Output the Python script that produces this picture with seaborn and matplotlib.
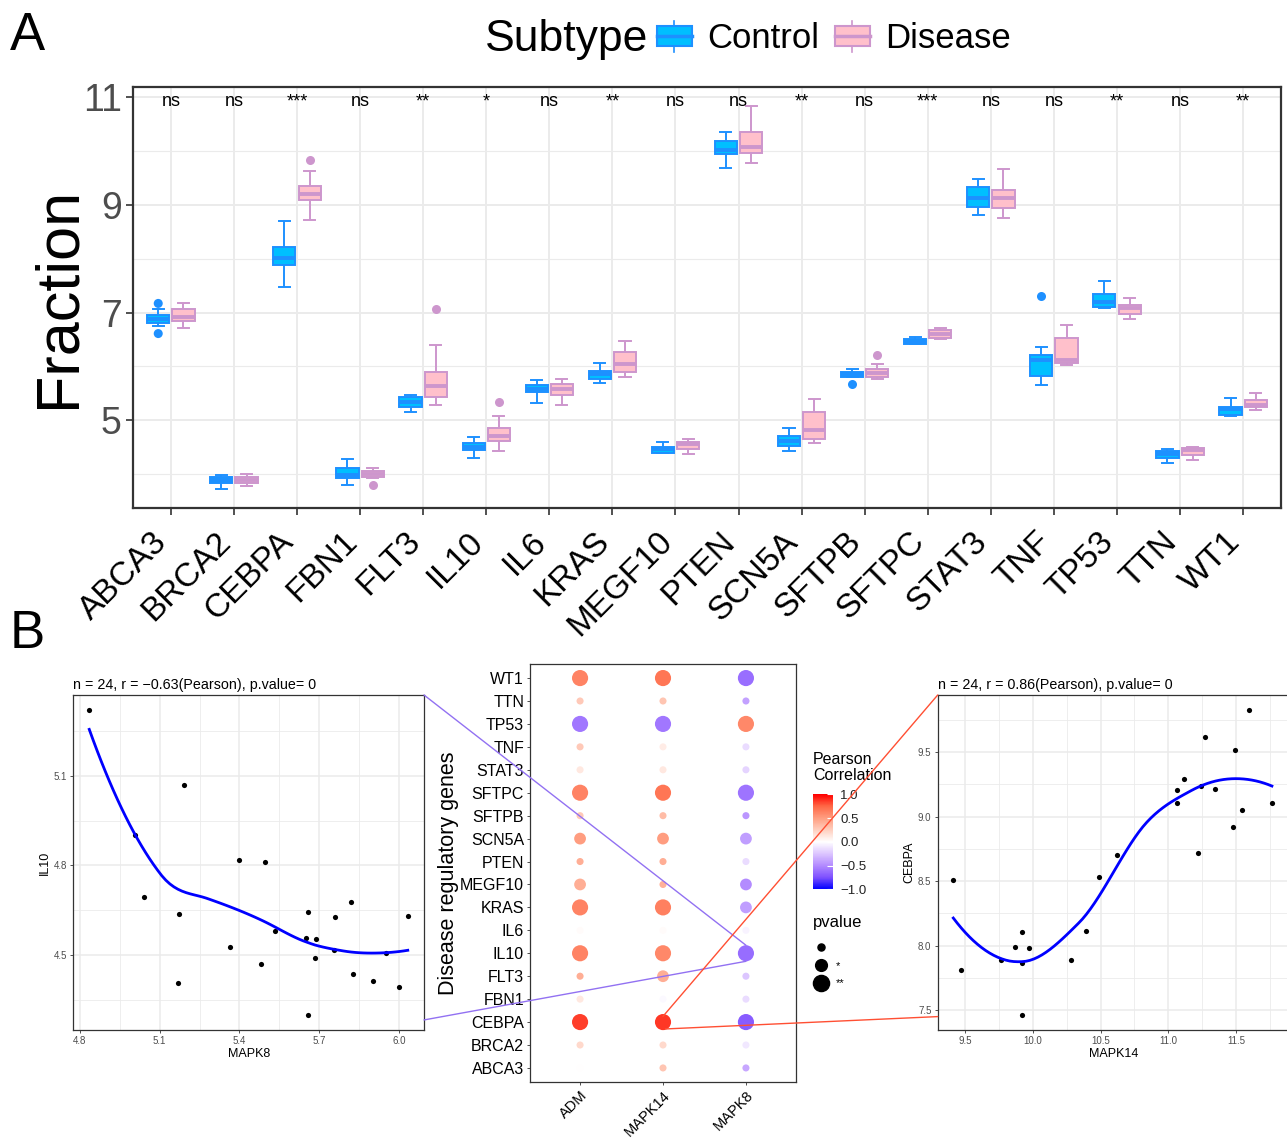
import matplotlib
matplotlib.use("Agg")
import matplotlib.pyplot as plt
import matplotlib.transforms as mtransforms
import numpy as np
import pandas as pd
import seaborn as sns
from matplotlib.colors import LinearSegmentedColormap, Normalize
from matplotlib.legend_handler import HandlerBase
from matplotlib.lines import Line2D
from matplotlib.patches import ConnectionPatch, Patch, Rectangle

# ---------------- panel A: expression by subtype ----------------
genes = ["ABCA3", "BRCA2", "CEBPA", "FBN1", "FLT3", "IL10", "IL6", "KRAS", "MEGF10",
         "PTEN", "SCN5A", "SFTPB", "SFTPC", "STAT3", "TNF", "TP53", "TTN", "WT1"]

# whisker low, Q1, median, Q3, whisker high
control_box = [
    [6.75, 6.81, 6.88, 6.96, 7.06], [3.73, 3.83, 3.89, 3.94, 3.98],
    [7.48, 7.88, 8.01, 8.22, 8.71], [3.80, 3.92, 3.98, 4.11, 4.28],
    [5.15, 5.24, 5.33, 5.43, 5.47], [4.30, 4.45, 4.50, 4.58, 4.68],
    [5.32, 5.52, 5.58, 5.66, 5.75], [5.70, 5.76, 5.86, 5.92, 6.06],
    [4.39, 4.40, 4.46, 4.51, 4.60], [9.69, 9.94, 10.02, 10.19, 10.35],
    [4.43, 4.52, 4.62, 4.71, 4.85], [5.80, 5.81, 5.85, 5.89, 5.95],
    [6.41, 6.42, 6.45, 6.50, 6.55], [8.81, 8.96, 9.12, 9.34, 9.48],
    [5.66, 5.83, 6.11, 6.21, 6.36], [7.08, 7.10, 7.20, 7.34, 7.58],
    [4.21, 4.29, 4.38, 4.42, 4.47], [5.07, 5.09, 5.20, 5.25, 5.41],
]
disease_box = [
    [6.71, 6.85, 6.92, 7.07, 7.17], [3.78, 3.83, 3.89, 3.94, 4.01],
    [8.72, 9.09, 9.21, 9.35, 9.63], [3.93, 3.95, 4.00, 4.06, 4.12],
    [5.29, 5.44, 5.64, 5.89, 6.39], [4.42, 4.61, 4.70, 4.86, 5.08],
    [5.29, 5.46, 5.58, 5.68, 5.77], [5.80, 5.89, 6.04, 6.26, 6.47],
    [4.37, 4.47, 4.55, 4.59, 4.66], [9.78, 9.96, 10.08, 10.36, 10.83],
    [4.57, 4.66, 4.81, 5.15, 5.39], [5.76, 5.81, 5.88, 5.96, 6.05],
    [6.51, 6.53, 6.61, 6.67, 6.71], [8.75, 8.94, 9.13, 9.28, 9.66],
    [6.02, 6.07, 6.12, 6.52, 6.76], [6.88, 6.97, 7.08, 7.14, 7.28],
    [4.27, 4.35, 4.45, 4.48, 4.51], [5.19, 5.24, 5.29, 5.38, 5.50],
]
control_out_gene = ["ABCA3", "ABCA3", "SFTPB", "TNF"]
control_out_val = [7.17, 6.61, 5.67, 7.30]
disease_out_gene = ["CEBPA", "FBN1", "FLT3", "IL10", "SFTPB"]
disease_out_val = [9.83, 3.80, 7.06, 5.34, 6.22]
signif = ["ns", "ns", "***", "ns", "**", "*", "ns", "**", "ns",
          "ns", "**", "ns", "***", "ns", "ns", "**", "ns", "**"]

# ---------------- panel B: correlations ----------------
mapk8_x = [4.835, 5.191, 5.008, 5.041, 5.173, 5.167, 5.366, 5.400, 5.497, 5.481, 5.533, 5.650,
           5.658, 5.686, 5.683, 5.658, 5.760, 5.756, 5.820, 5.828, 5.904, 5.950, 5.999, 6.033]
il10_y = [5.320, 5.070, 4.901, 4.695, 4.637, 4.405, 4.525, 4.818, 4.812, 4.469, 4.580, 4.556,
          4.643, 4.554, 4.488, 4.297, 4.627, 4.518, 4.677, 4.437, 4.412, 4.508, 4.392, 4.630]
mapk14_x = [9.414, 9.470, 9.763, 9.869, 9.923, 9.920, 9.974, 9.920, 10.282, 10.395, 10.486, 10.619,
            11.061, 11.063, 11.115, 11.218, 11.240, 11.268, 11.346, 11.474, 11.494, 11.543, 11.592, 11.764]
cebpa_y = [8.508, 7.808, 7.888, 7.991, 8.102, 7.867, 7.978, 7.459, 7.888, 8.110, 8.531, 8.699,
           9.203, 9.107, 9.291, 8.715, 9.236, 9.614, 9.213, 8.916, 9.513, 9.050, 9.823, 9.102]

targets = ["ADM", "MAPK14", "MAPK8"]
# Pearson r per gene (same order as genes)
r_adm = [0.00, 0.20, 0.85, 0.12, 0.42, 0.62, 0.02, 0.62, 0.42, 0.42, 0.50, 0.28,
         0.62, 0.12, 0.28, -0.58, 0.28, 0.62]
r_mapk14 = [0.30, 0.20, 0.86, -0.03, 0.42, 0.60, 0.02, 0.64, 0.40, 0.42, 0.50, 0.35,
            0.68, 0.12, 0.10, -0.58, 0.30, 0.68]
r_mapk8 = [-0.38, -0.10, -0.70, -0.15, -0.25, -0.63, -0.05, -0.42, -0.50, -0.15, -0.42, -0.45,
           -0.60, -0.18, -0.15, 0.60, -0.40, -0.62]
p_adm = ["ns", "ns", "**", "ns", "ns", "**", "ns", "**", "*", "ns", "*", "ns",
         "**", "ns", "ns", "**", "ns", "**"]
p_mapk14 = ["ns", "ns", "**", "ns", "*", "**", "ns", "**", "ns", "ns", "*", "ns",
            "**", "ns", "ns", "**", "ns", "**"]
p_mapk8 = ["ns", "ns", "**", "ns", "ns", "**", "ns", "*", "*", "ns", "*", "ns",
           "**", "ns", "ns", "**", "ns", "**"]

plt.rcParams["font.family"] = ["Liberation Sans", "DejaVu Sans"]

W, H = 1287, 1140


def fig_rect(left, top, right, bottom):
    return [left / W, 1 - bottom / H, (right - left) / W, (bottom - top) / H]


def loess_fit(x, y, span=0.75, n_grid=80):
    """Local quadratic loess evaluated on kd-tree vertices and joined by
    cubic Hermite pieces, the way R's loess(surface='interpolate') does."""
    x = np.asarray(x, float)
    y = np.asarray(y, float)
    n = len(x)
    q = int(np.floor(n * span))

    def local(g):
        d = np.abs(x - g)
        h = max(np.sort(d)[q - 1], 1e-12)
        w = np.clip(1 - (d / h) ** 3, 0, None) ** 3
        X = np.column_stack([np.ones(n), x - g, (x - g) ** 2])
        sw = np.sqrt(w)
        beta = np.linalg.lstsq(X * sw[:, None], y * sw, rcond=None)[0]
        return beta[0], beta[1]

    fc = int(np.floor(n * span * 0.2))
    mu = 0.005 * (x.max() - x.min())
    verts = [x.min() - mu, x.max() + mu]

    def split(pts):
        if len(pts) <= fc:
            return
        pts = np.sort(pts)
        m = (len(pts) + 1) // 2
        v = (pts[m - 1] + pts[m]) / 2
        left, right = pts[pts <= v], pts[pts > v]
        if len(left) == 0 or len(right) == 0:
            return
        verts.append(v)
        split(left)
        split(right)

    split(x)
    verts = np.unique(verts)
    vals = np.array([local(v) for v in verts])

    grid = np.linspace(x.min(), x.max(), n_grid)
    idx = np.clip(np.searchsorted(verts, grid) - 1, 0, len(verts) - 2)
    v0, v1 = verts[idx], verts[idx + 1]
    gap = v1 - v0
    t = (grid - v0) / gap
    h00 = 2 * t ** 3 - 3 * t ** 2 + 1
    h10 = t ** 3 - 2 * t ** 2 + t
    h01 = -2 * t ** 3 + 3 * t ** 2
    h11 = t ** 3 - t ** 2
    fit = (h00 * vals[idx, 0] + h10 * gap * vals[idx, 1]
           + h01 * vals[idx + 1, 0] + h11 * gap * vals[idx + 1, 1])
    return grid, fit


class BoxKey(HandlerBase):
    def create_artists(self, legend, orig, xd, yd, width, height, fontsize, trans):
        face, edge = orig.get_facecolor(), orig.get_edgecolor()
        x0, y0 = -xd, -yd
        box = Rectangle((x0, y0 + 0.18 * height), width, 0.64 * height,
                        facecolor=face, edgecolor=edge, lw=1.5, transform=trans)
        med = Line2D([x0, x0 + width], [y0 + 0.5 * height] * 2, color=edge, lw=2.5, transform=trans)
        up = Line2D([x0 + width / 2] * 2, [y0 + 0.82 * height, y0 + height], color=edge, lw=1.2, transform=trans)
        lo = Line2D([x0 + width / 2] * 2, [y0, y0 + 0.18 * height], color=edge, lw=1.2, transform=trans)
        return [box, med, up, lo]


fig = plt.figure(figsize=(W / 100, H / 100), dpi=100)

# ---------------- panel A ----------------
rows = []
for g, c, d in zip(genes, control_box, disease_box):
    rows += [(g, "Control", v) for v in c]
    rows += [(g, "Disease", v) for v in d]
box_df = pd.DataFrame(rows, columns=["gene", "Subtype", "value"])
out_df = pd.DataFrame({
    "gene": control_out_gene + disease_out_gene,
    "Subtype": ["Control"] * len(control_out_gene) + ["Disease"] * len(disease_out_gene),
    "value": control_out_val + disease_out_val,
})

fills = {"Control": "#00BFFF", "Disease": "#FFC0CB"}
edges = {"Control": "#1E90FF", "Disease": "#CD96CD"}
hue_order = ["Control", "Disease"]

ax_a = fig.add_axes(fig_rect(133, 87, 1281, 508))
for grp in hue_order:
    sns.boxplot(data=box_df[box_df["Subtype"] == grp], x="gene", y="value", hue="Subtype",
                order=genes, hue_order=hue_order, palette=fills, linecolor=edges[grp],
                linewidth=1.4, width=0.8, gap=0.12, dodge=True, saturation=1,
                whis=(0, 100), showfliers=False, medianprops={"linewidth": 2.8},
                legend=False, ax=ax_a)
sns.stripplot(data=out_df, x="gene", y="value", hue="Subtype", order=genes,
              hue_order=hue_order, palette=edges, dodge=True, jitter=False,
              size=6.5, linewidth=0, legend=False, ax=ax_a)

for i, s in enumerate(signif):
    ax_a.text(i, 10.83, s, ha="center", va="baseline", fontsize=13)

ax_a.set_xlim(-0.6, len(genes) - 0.4)
ax_a.set_ylim(3.37, 11.19)
ax_a.set_yticks([5, 7, 9, 11])
ax_a.set_yticks([4, 6, 8, 10], minor=True)
ax_a.set_axisbelow(True)
ax_a.yaxis.grid(True, which="major", color="#EBEBEB", lw=1.4)
ax_a.yaxis.grid(True, which="minor", color="#EBEBEB", lw=0.8)
ax_a.xaxis.grid(True, which="major", color="#EBEBEB", lw=1.4)
ax_a.set_xlabel("")
ax_a.set_ylabel("Fraction", fontsize=44, labelpad=-3)
ax_a.tick_params(axis="y", which="major", labelsize=27, labelcolor="#4D4D4D",
                 length=5, width=1.2, color="#333333", pad=3)
ax_a.tick_params(axis="y", which="minor", length=0)
ax_a.tick_params(axis="x", labelsize=24, labelcolor="black", length=5, width=1.2,
                 color="#333333", pad=3)
shift = mtransforms.ScaledTranslation(-0.19, -0.07, fig.dpi_scale_trans)
for lab in ax_a.get_xticklabels():
    lab.set_rotation(45)
    lab.set_ha("right")
    lab.set_va("top")
    lab.set_rotation_mode("anchor")
    lab.set_transform(lab.get_transform() + shift)
for sp in ax_a.spines.values():
    sp.set_color("#333333")
    sp.set_linewidth(1.6)

fig.text(485 / W, 1 - 51 / H, "Subtype", fontsize=32, va="baseline", ha="left")
handles = [Patch(facecolor=fills[k], edgecolor=edges[k]) for k in hue_order]
fig.legend(handles, hue_order, handler_map={Patch: BoxKey()}, loc="center left",
           bbox_to_anchor=(657 / W, 1 - 38 / H), ncol=2, frameon=False, fontsize=25,
           handlelength=1.0, handleheight=1.0, handletextpad=0.45, columnspacing=0.45,
           borderpad=0, borderaxespad=0)

fig.text(10 / W, 1 - 50 / H, "A", fontsize=38, va="baseline", ha="left")
fig.text(10 / W, 1 - 648 / H, "B", fontsize=38, va="baseline", ha="left")


# ---------------- panel B: scatter plots ----------------
def style_scatter(ax):
    ax.set_axisbelow(True)
    ax.grid(True, which="major", color="#EBEBEB", lw=1.1)
    ax.grid(True, which="minor", color="#EBEBEB", lw=0.6)
    ax.tick_params(which="major", labelsize=7, labelcolor="#4D4D4D", length=2.5,
                   width=0.6, color="#333333", pad=2)
    ax.tick_params(which="minor", length=0)
    for sp in ax.spines.values():
        sp.set_color("#333333")
        sp.set_linewidth(0.9)


ax_l = fig.add_axes(fig_rect(73.3, 695, 424, 1030))
sns.scatterplot(x=mapk8_x, y=il10_y, color="black", s=14, linewidth=0, ax=ax_l)
gx, gy = loess_fit(mapk8_x, il10_y)
sns.lineplot(x=gx, y=gy, color="blue", linewidth=2, estimator=None, sort=False, ax=ax_l)
ax_l.set_xlim(4.775, 6.094)
ax_l.set_ylim(4.248, 5.372)
ax_l.set_xticks([4.8, 5.1, 5.4, 5.7, 6.0])
ax_l.set_xticks([4.95, 5.25, 5.55, 5.85], minor=True)
ax_l.set_yticks([4.5, 4.8, 5.1])
ax_l.set_yticks([4.35, 4.65, 4.95, 5.25], minor=True)
ax_l.set_xlabel("MAPK8", fontsize=9, labelpad=1)
ax_l.set_ylabel("IL10", fontsize=9, labelpad=2)
ax_l.set_title("n = 24, r = \u22120.63(Pearson), p.value= 0", loc="left", fontsize=10.3, pad=4)
style_scatter(ax_l)

ax_r = fig.add_axes(fig_rect(937.7, 695, 1289, 1030))
sns.scatterplot(x=mapk14_x, y=cebpa_y, color="black", s=14, linewidth=0, ax=ax_r)
gx, gy = loess_fit(mapk14_x, cebpa_y)
sns.lineplot(x=gx, y=gy, color="blue", linewidth=2, estimator=None, sort=False, ax=ax_r)
ax_r.set_xlim(9.299, 11.89)
ax_r.set_ylim(7.345, 9.942)
ax_r.set_xticks([9.5, 10.0, 10.5, 11.0, 11.5])
ax_r.set_xticks([9.75, 10.25, 10.75, 11.25, 11.75], minor=True)
ax_r.set_yticks([7.5, 8.0, 8.5, 9.0, 9.5])
ax_r.set_yticks([7.75, 8.25, 8.75, 9.25, 9.75], minor=True)
ax_r.set_xlabel("MAPK14", fontsize=9, labelpad=1)
ax_r.set_ylabel("CEBPA", fontsize=9, labelpad=2)
ax_r.set_title("n = 24, r = 0.86(Pearson), p.value= 0", loc="left", fontsize=10.3, pad=4)
style_scatter(ax_r)

# ---------------- panel B: correlation dot plot ----------------
r_by_target = {"ADM": r_adm, "MAPK14": r_mapk14, "MAPK8": r_mapk8}
p_by_target = {"ADM": p_adm, "MAPK14": p_mapk14, "MAPK8": p_mapk8}
dot_rows = []
for i, g in enumerate(genes):
    for t in targets:
        dot_rows.append((g, t, r_by_target[t][i], p_by_target[t][i]))
dot_df = pd.DataFrame(dot_rows, columns=["gene", "target", "r", "pvalue"])

cmap = LinearSegmentedColormap.from_list(
    "bwr_lab",
    ["#0000FF", "#7E51FF", "#B38BFF", "#DCC5FF", "#FFFFFF",
     "#FFCFBF", "#FF9E81", "#FF6846", "#FF0000"])
dot_sizes = {"ns": 26, "*": 72, "**": 135}

ax_m = fig.add_axes(fig_rect(530.3, 664.3, 795.7, 1081.7))
sns.scatterplot(data=dot_df, x="target", y="gene", hue="r", hue_norm=(-1, 1), palette=cmap,
                size="pvalue", sizes=dot_sizes, size_order=["ns", "*", "**"],
                linewidth=0, legend=False, ax=ax_m)
ax_m.set_xlim(-0.6, len(targets) - 0.4)
ax_m.set_ylim(-0.6, len(genes) - 0.4)
ax_m.set_xlabel("")
ax_m.set_ylabel("Disease regulatory genes", fontsize=15.5, labelpad=1)
ax_m.tick_params(axis="y", labelsize=11.5, labelcolor="black", length=2.5, width=0.6,
                 color="#333333", pad=2)
ax_m.tick_params(axis="x", labelsize=10.5, labelcolor="black", length=2.5, width=0.6,
                 color="#333333", pad=2)
for lab in ax_m.get_xticklabels():
    lab.set_rotation(45)
    lab.set_ha("right")
    lab.set_va("top")
    lab.set_rotation_mode("anchor")
for sp in ax_m.spines.values():
    sp.set_color("#333333")
    sp.set_linewidth(0.9)

ax_cb = fig.add_axes(fig_rect(813.3, 794.3, 833.3, 889.3))
cb = fig.colorbar(plt.cm.ScalarMappable(norm=Normalize(-1, 1), cmap=cmap), cax=ax_cb)
cb.outline.set_visible(False)
cb.set_ticks([1, 0.5, 0, -0.5, -1], labels=["1.0", "0.5", "0.0", "\u22120.5", "\u22121.0"])
ax_cb.tick_params(direction="in", length=4, width=0.8, color="white",
                  labelsize=9.5, labelcolor="#222222", pad=5)
fig.text(813 / W, 1 - 752 / H, "Pearson\nCorrelation", fontsize=11.5, va="top", ha="left",
         linespacing=1.05)
fig.text(813 / W, 1 - 922 / H, "pvalue", fontsize=12, va="center", ha="left")
size_handles = [Line2D([], [], ls="", marker="o", color="black", markersize=np.sqrt(dot_sizes[k]))
                for k in ["ns", "*", "**"]]
fig.legend(size_handles, ["", "*", "**"], loc="upper left", bbox_to_anchor=(812 / W, 1 - 943 / H),
           frameon=False, fontsize=8, handlelength=1.6, handletextpad=0.5, labelspacing=0.7,
           borderpad=0, borderaxespad=0)

# ---------------- connectors between panels ----------------
il10_pos = genes.index("IL10")
cebpa_pos = genes.index("CEBPA")
purple, red = "#9271F2", "#FF4F33"
links = [
    ((1, 1), ax_l.transAxes, (2, il10_pos + 0.35), ax_m.transData, purple),
    ((1, 0.03), ax_l.transAxes, (2, il10_pos - 0.35), ax_m.transData, purple),
    ((0, 1), ax_r.transAxes, (1, cebpa_pos + 0.25), ax_m.transData, red),
    ((0, 0.04), ax_r.transAxes, (1.03, cebpa_pos - 0.3), ax_m.transData, red),
]
for xa, ta, xb, tb, col in links:
    con = ConnectionPatch(xyA=xa, coordsA=ta, xyB=xb, coordsB=tb, color=col, lw=1.0, zorder=10)
    fig.add_artist(con)

fig.savefig("out.png", dpi=100, facecolor="white")
